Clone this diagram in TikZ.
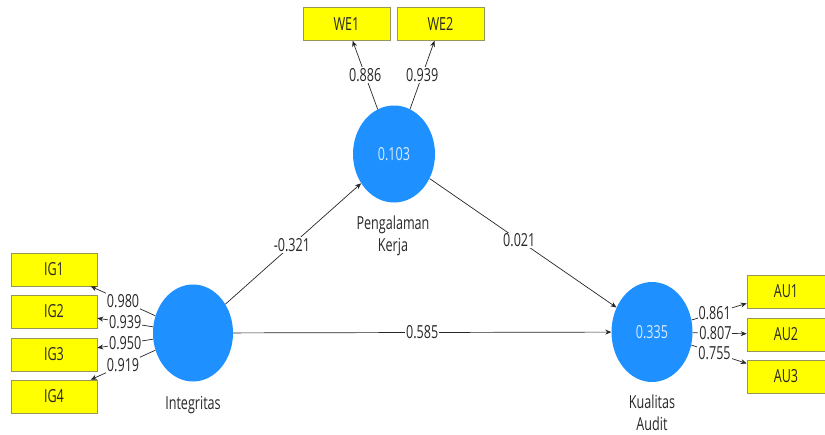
\documentclass[tikz,border=0pt]{standalone}
\usepackage{fontspec}
\setmainfont{Open Sans}[FakeStretch=0.7]
\usetikzlibrary{shapes.geometric,arrows.meta}
\definecolor{lv}{RGB}{30,144,255}
\definecolor{mv}{RGB}{255,255,0}
\definecolor{mvb}{RGB}{150,150,90}
\definecolor{txt}{RGB}{40,40,40}
\definecolor{lvtxt}{RGB}{215,235,255}
\begin{document}
\begin{tikzpicture}[x=1pt,y=-1pt,
  every node/.style={font=\fontsize{18}{22}\selectfont, text=txt},
  latent/.style={ellipse, fill=lv, draw=none, inner sep=0pt, text=lvtxt},
  indicator/.style={rectangle, fill=mv, draw=mvb, line width=0.6pt, minimum height=33pt, inner sep=0pt},
  conn/.style={draw=black!85, line width=0.7pt, -{Stealth[length=6pt,width=5pt]}},
  coef/.style={fill=white, inner sep=1pt}
]
\useasboundingbox (0,0) rectangle (825,434);
% latent variables
\node[latent, minimum width=82pt, minimum height=97pt] (pk) at (394,154) {0.103};
\node[latent, minimum width=80pt, minimum height=97pt] (ig) at (193,333) {};
\node[latent, minimum width=81pt, minimum height=100pt] (ka) at (652,332) {0.335};
% latent labels
\node[align=center] (pkl) at (393,236) {Pengalaman\\Kerja};
\node (igl) at (193,405) {Integritas};
\node[align=center] (kal) at (652,413) {Kualitas\\Audit};
% indicators
\node[indicator, minimum width=87pt] (we1) at (346.5,24) {WE1};
\node[indicator, minimum width=87pt] (we2) at (440.5,24) {WE2};
\node[indicator, minimum width=86pt] (ig1) at (54,269.5) {IG1};
\node[indicator, minimum width=86pt] (ig2) at (54,311.5) {IG2};
\node[indicator, minimum width=86pt] (ig3) at (54,354.5) {IG3};
\node[indicator, minimum width=86pt] (ig4) at (54,396.5) {IG4};
\node[indicator, minimum width=78pt] (au1) at (786,291.5) {AU1};
\node[indicator, minimum width=78pt] (au2) at (786,334.5) {AU2};
\node[indicator, minimum width=78pt] (au3) at (786,376.5) {AU3};
% outer loadings
\draw[conn] (pk) -- node[coef, pos=0.5] {0.886} (we1);
\draw[conn] (pk) -- node[coef, pos=0.5] {0.939} (we2);
\draw[conn] (ig) -- node[coef, pos=0.5] {0.980} (ig1);
\draw[conn] (ig) -- node[coef, pos=0.5] {0.939} (ig2);
\draw[conn] (ig) -- node[coef, pos=0.5] {0.950} (ig3);
\draw[conn] (ig) -- node[coef, pos=0.5] {0.919} (ig4);
\draw[conn] (ka) -- node[coef, pos=0.42] {0.861} (au1);
\draw[conn] (ka) -- node[coef, pos=0.42] {0.807} (au2);
\draw[conn] (ka) -- node[coef, pos=0.42] {0.755} (au3);
% path coefficients
\draw[conn] (ig) -- node[coef, pos=0.49] {-0.321} (pk);
\draw[conn] (pk) -- node[coef, pos=0.48] {0.021} (ka);
\draw[conn] (ig) -- node[coef, pos=0.5] {0.585} (ka);
\end{tikzpicture}
\end{document}
